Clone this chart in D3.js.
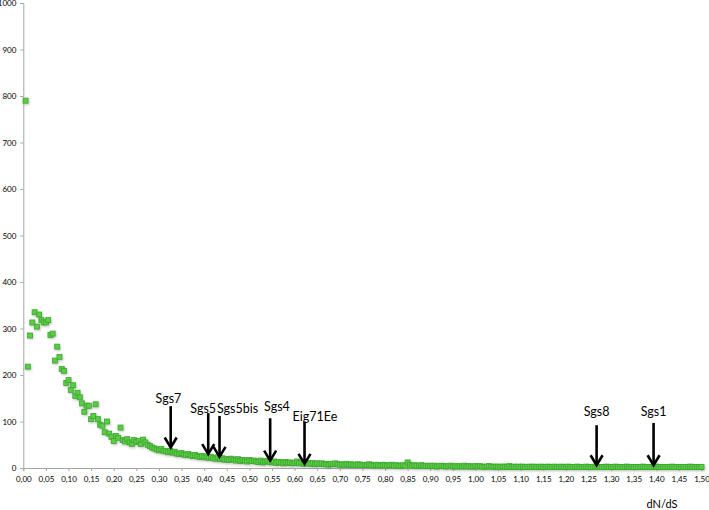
<!DOCTYPE html>
<html>
<head>
<meta charset="utf-8">
<script src="https://cdn.jsdelivr.net/npm/d3@7"></script>
<style>
  html, body { margin: 0; padding: 0; background: #fff; }
  svg { display: block; }
  .tick text { font-family: Lato, "Open Sans", sans-serif; }
</style>
</head>
<body>
<svg id="chart" width="709" height="510"></svg>
<script>
// ---- data ----
const binStep = 0.005;           // dN/dS bin width (x of bin i = i*binStep, i starting at 1)
const counts = [
  790,218,285,313,335,304,330,318,313,313,
  318,286,289,231,261,239,213,209,183,189,
  168,178,155,162,152,139,121,134,134,105,
  112,137,105,93,91,77,100,74,67,58,
  69,65,87,60,57,62,55,52,60,56,
  58,52,61,55,50,47,44,42,40,38,
  41,37,36,34,37,33,35,31,30,32,
  29,28,30,27,26,28,25,24,26,23,
  25,22,24,21,20,23,19,21,18,19,
  17,20,18,16,19,15,17,16,14,17,
  15,16,14,13,16,12,14,15,13,12,
  14,11,13,12,10,13,11,12,10,11,
  14,10,12,9,11,10,9,11,8,10,
  9,10,8,9,7,9,8,10,8,7,
  8,7,9,6,8,7,6,8,7,6,
  7,6,8,6,5,7,6,5,7,6,
  5,6,7,5,6,5,4,6,5,12,
  7,5,6,4,5,6,4,5,4,5,
  4,5,3,4,5,4,3,4,5,3,
  4,3,4,3,5,3,4,3,3,4,
  3,4,3,2,3,4,3,2,3,3,
  2,3,3,2,4,2,3,2,3,2,
  3,2,2,3,2,3,2,2,3,2,
  2,3,2,2,3,2,2,3,2,2,
  3,2,2,2,3,2,2,2,3,2,
  2,2,3,2,2,2,2,3,2,2,
  2,3,2,2,2,2,3,2,2,2,
  2,2,2,3,2,2,2,2,2,3,
  2,2,2,2,2,2,3,2,2,2,
  2,2,2,2,3,2,2,2,2,2
];
const xTicks = d3.range(0, 31).map(i => i * 0.05);
const yTicks = [0,100,200,300,400,500,600,700,800,900,1000];
const xTitle = "dN/dS";

const annNames  = ["Sgs7","Sgs5","Sgs5bis","Sgs4","Eig71Ee","Sgs8","Sgs1"];
const annX      = [0.326, 0.409, 0.434, 0.546, 0.622, 1.268, 1.394];
const annTip    = [44, 30, 24, 16, 9, 6, 6];
const annTop    = [133, 118, 112, 107, 100, 92, 97];
const annLabelX = [0.321, 0.398, 0.474, 0.561, 0.645, 1.268, 1.394];
const annLabelY = [150, 128, 127, 132, 110, 121, 121];

// ---- chart ----
const svg = d3.select("#chart");
const x = d3.scaleLinear().domain([0, 1.5]).range([23.3, 701.5]);
const y = d3.scaleLinear().domain([0, 1000]).range([468, 3]);

const defs = svg.append("defs");
const f = defs.append("filter").attr("id", "sh").attr("x", "-50%").attr("y", "-50%").attr("width", "200%").attr("height", "200%");
f.append("feDropShadow").attr("dx", 0.8).attr("dy", 1.2).attr("stdDeviation", 0.8)
  .attr("flood-color", "#777").attr("flood-opacity", 0.45);

const fmt = d => d3.format(".2f")(d).replace(".", ",");

// x axis
const xAxis = svg.append("g").attr("transform", `translate(0,${y(0)})`)
  .call(d3.axisBottom(x).tickValues(xTicks).tickFormat(fmt).tickSize(3).tickPadding(5));
xAxis.select(".domain").attr("stroke", "#a6a6a6");
xAxis.selectAll(".tick line").attr("stroke", "#a6a6a6");
xAxis.selectAll(".tick text").attr("font-size", 8).attr("fill", "#000");

// y axis
const yAxis = svg.append("g").attr("transform", `translate(${x(0)},0)`)
  .call(d3.axisLeft(y).tickValues(yTicks).tickFormat(d3.format("d")).tickSize(3).tickPadding(4));
yAxis.select(".domain").attr("stroke", "#a6a6a6");
yAxis.selectAll(".tick line").attr("stroke", "#a6a6a6");
yAxis.selectAll(".tick text").attr("font-size", 8).attr("fill", "#000");

// points
const pts = counts.map((c, i) => ({ x: (i + 1) * binStep, y: c }));
const s = 5;
svg.append("g").attr("filter", "url(#sh)")
  .selectAll("rect").data(pts).join("rect")
  .attr("x", d => x(d.x) - s / 2)
  .attr("y", d => y(d.y) - s / 2)
  .attr("width", s).attr("height", s)
  .attr("fill", "#5ccb45")
  .attr("stroke", "#3aa82c")
  .attr("stroke-width", 0.8);

// annotations
const ann = annNames.map((n, i) => ({ n, x: annX[i], tip: annTip[i], top: annTop[i], lx: annLabelX[i], ly: annLabelY[i] }));
const ag = svg.append("g");
ag.selectAll("line.arr").data(ann).join("line").attr("class", "arr")
  .attr("x1", d => x(d.x)).attr("x2", d => x(d.x))
  .attr("y1", d => y(d.top)).attr("y2", d => y(d.tip) - 1)
  .attr("stroke", "#000").attr("stroke-width", 2.6);
ag.selectAll("path.head").data(ann).join("path").attr("class", "head")
  .attr("d", d => { const px = x(d.x), py = y(d.tip); return `M${px - 6},${py - 10}L${px},${py}L${px + 6},${py - 10}`; })
  .attr("fill", "none").attr("stroke", "#000").attr("stroke-width", 2.6)
  .attr("stroke-linejoin", "miter").attr("stroke-linecap", "butt");
ag.selectAll("text").data(ann).join("text")
  .attr("x", d => x(d.lx)).attr("y", d => y(d.ly) + 4.5)
  .attr("text-anchor", "middle")
  .attr("font-family", "Lato, 'Open Sans', sans-serif")
  .attr("font-size", 12.5).attr("fill", "#000")
  .text(d => d.n);

// x title
svg.append("text").attr("x", 662).attr("y", 508)
  .attr("text-anchor", "middle")
  .attr("font-family", "Lato, 'Open Sans', sans-serif")
  .attr("font-size", 11).attr("fill", "#000")
  .text(xTitle);
</script>
</body>
</html>
